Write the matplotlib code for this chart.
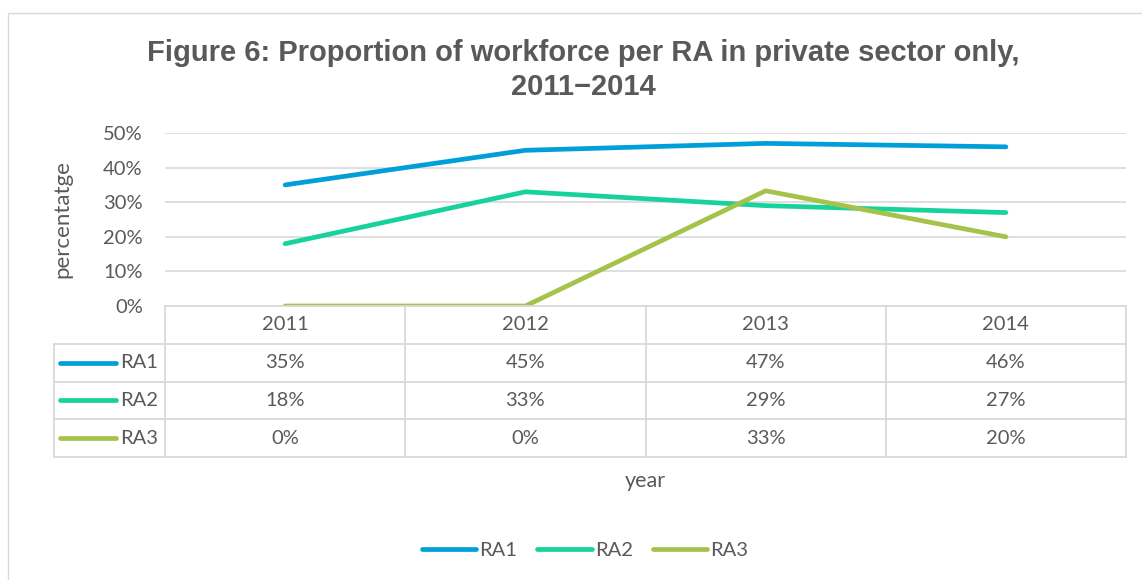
import matplotlib
matplotlib.use('Agg')
import matplotlib.pyplot as plt
from matplotlib.lines import Line2D
from matplotlib.patches import Rectangle

years = ['2011', '2012', '2013', '2014']
series_names = ['RA1', 'RA2', 'RA3']
ra1 = [0.35, 0.45, 0.47, 0.46]
ra2 = [0.18, 0.33, 0.29, 0.27]
ra3 = [0.0, 0.0, 0.333, 0.20]
colors = ['#009FDA', '#17D29C', '#A5C24A']

W, H = 1142, 580
grey = '#595959'
gridc = '#D9D9D9'
font = 'Lato'
fs = 14.5

fig = plt.figure(figsize=(W / 100, H / 100), dpi=100)


def px_axes(x0, y0, x1, y1):
    return fig.add_axes([x0 / W, 1 - y1 / H, (x1 - x0) / W, (y1 - y0) / H])


# outer chart border
fig.patches.append(Rectangle((8 / W, -0.1), 1.2, 1 - 13 / H + 0.1, transform=fig.transFigure,
                             fill=False, edgecolor=gridc, linewidth=1))

fig.text(583 / W, 1 - 70 / H, 'Figure 6: Proportion of workforce per RA in private sector only,\n2011\u22122014',
         ha='center', va='center', fontsize=21, fontweight='bold', color=grey,
         family='Liberation Sans', linespacing=1.3)

# line plot
ax = px_axes(165, 133, 1126, 306)
x = range(len(years))
for vals, name, c in zip([ra1, ra2, ra3], series_names, colors):
    ax.plot(x, vals, color=c, linewidth=3.4, solid_capstyle='round', label=name, zorder=3)
ax.set_xlim(-0.5, len(years) - 0.5)
ax.set_ylim(0, 0.5)
ax.set_yticks([0, 0.1, 0.2, 0.3, 0.4, 0.5])
ax.set_yticklabels([f'{v:.0%}' for v in ax.get_yticks()], family=font, fontsize=fs, color=grey)
ax.set_xticks([])
ax.tick_params(axis='y', length=0, pad=16)
ax.grid(axis='y', color=gridc, linewidth=1.2)
for s in ax.spines.values():
    s.set_visible(False)
ax.set_ylabel('percentatge', family=font, fontsize=16, color=grey, labelpad=22)

# data table under the plot
tax = px_axes(165, 306, 1126, 457)
tax.set_xlim(-0.5, len(years) - 0.5)
tax.set_ylim(4, 0)
tax.axis('off')
colw = 111 / 240  # label column width in category units
left = -0.5 - colw
kw = dict(color=gridc, linewidth=1.3, clip_on=False)
tax.plot([-0.5, len(years) - 0.5], [0, 0], **kw)
for r in range(1, 5):
    tax.plot([left, len(years) - 0.5], [r, r], **kw)
tax.plot([left, left], [1, 4], **kw)
for i in range(len(years) + 1):
    tax.plot([i - 0.5, i - 0.5], [0, 4], **kw)
for i, yr in enumerate(years):
    tax.text(i, 0.5, yr, ha='center', va='center', family=font, fontsize=fs, color=grey)
for r, (vals, name, c) in enumerate(zip([ra1, ra2, ra3], series_names, colors), start=1):
    tax.plot([left + 6 / 240, left + 62 / 240], [r + 0.5, r + 0.5], color=c, linewidth=3.4,
             solid_capstyle='round', clip_on=False)
    tax.text(left + 66 / 240, r + 0.5, name, ha='left', va='center', family=font, fontsize=fs, color=grey)
    for i, v in enumerate(vals):
        tax.text(i, r + 0.5, f'{v:.0%}', ha='center', va='center', family=font, fontsize=fs, color=grey)

fig.text(645 / W, 1 - 481 / H, 'year', ha='center', va='center', family=font, fontsize=15.5, color=grey)

handles = [Line2D([], [], color=c, linewidth=3.4, solid_capstyle='round') for c in colors]
leg = fig.legend(handles, series_names, loc='center', bbox_to_anchor=(585 / W, 1 - 550 / H), ncol=3,
                 frameon=False, handlelength=2.7, handletextpad=0.15, columnspacing=1.0,
                 prop={'family': font, 'size': fs})
for t in leg.get_texts():
    t.set_color(grey)

fig.savefig('out.png', dpi=100)
